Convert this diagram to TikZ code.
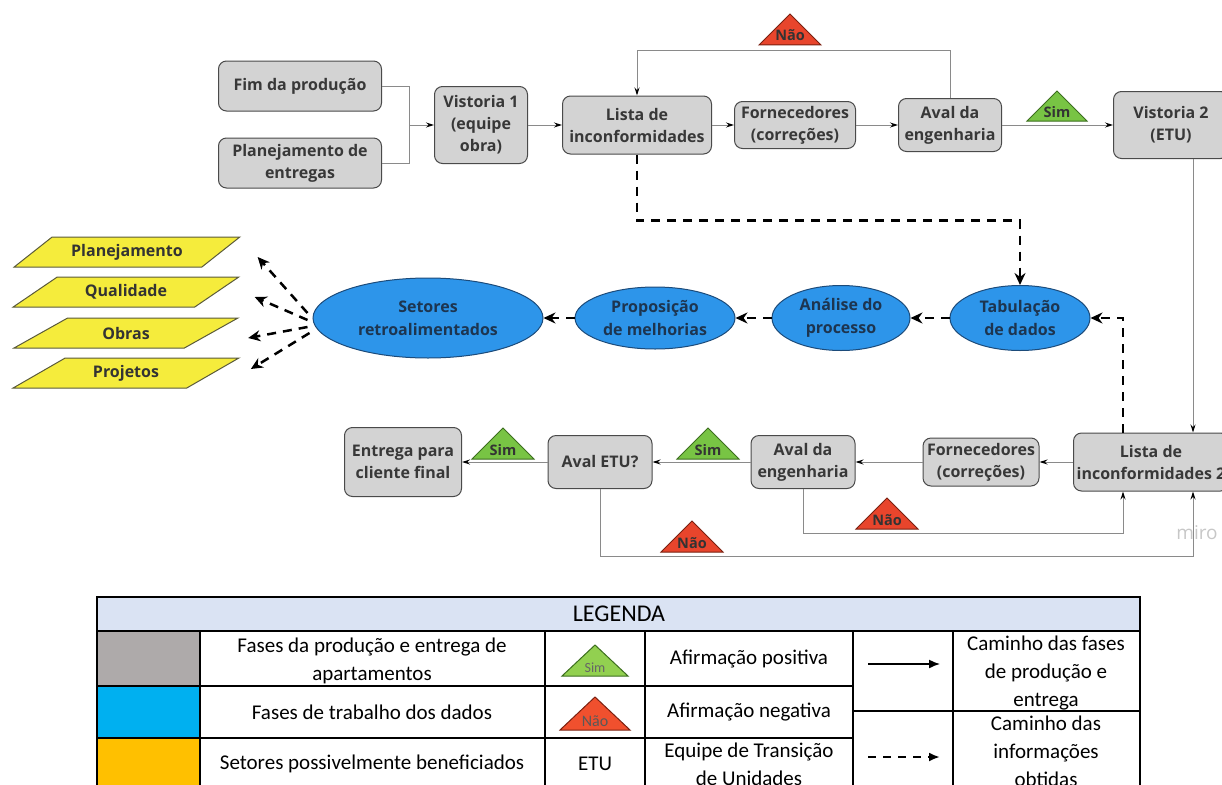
\documentclass[tikz,border=0pt]{standalone}
\usepackage{fontspec}
\setmainfont{Open Sans}
\newfontfamily\legfont{Carlito}
\usetikzlibrary{shapes.geometric,arrows.meta,positioning,calc}

\definecolor{boxfill}{HTML}{D3D3D3}
\definecolor{boxline}{HTML}{4A4A4A}
\definecolor{boxtext}{HTML}{383838}
\definecolor{ellfill}{HTML}{2D95EA}
\definecolor{ellline}{HTML}{1C4B7A}
\definecolor{elltext}{HTML}{1D3550}
\definecolor{secfill}{HTML}{F5EC3C}
\definecolor{secline}{HTML}{5A5A3A}
\definecolor{connline}{HTML}{8A8A8A}
\definecolor{simfill}{HTML}{78C444}
\definecolor{simline}{HTML}{3C6E1E}
\definecolor{naofill}{HTML}{E8452C}
\definecolor{naoline}{HTML}{7A2010}
\definecolor{legsim}{HTML}{92D050}
\definecolor{legnao}{HTML}{F0502E}
\definecolor{leghead}{HTML}{DAE3F3}
\definecolor{swgray}{HTML}{AEAAAA}
\definecolor{swblue}{HTML}{00B0F0}
\definecolor{swyellow}{HTML}{FFC000}

% triangle flag: name, base centre, half width, height, style, text
\newcommand{\flag}[6]{%
  \path[#5] (#2) ++(-#3,0) -- ++(2*#3,0) -- ++(-#3,-#4) -- cycle;
  \path (#2) ++(0,-4) node[flagtext] (#1) {#6};}

\begin{document}
\begin{tikzpicture}[x=1pt,y=-1pt,
    phase/.style={draw=boxline,fill=boxfill,rounded corners=8pt,line width=1pt,
      align=center,text=boxtext,inner sep=1pt,
      font=\bfseries\fontsize{16}{22}\selectfont},
    data/.style={ellipse,draw=ellline,fill=ellfill,line width=1pt,align=center,
      text=elltext,inner sep=0pt,font=\bfseries\fontsize{16}{23}\selectfont},
    sector/.style={trapezium,trapezium left angle=29.5,trapezium right angle=150.5,
      trapezium stretches=true,draw=secline,fill=secfill,line width=1pt,
      minimum width=226,minimum height=30,inner sep=0pt,text=black!80,
      font=\bfseries\fontsize{16}{18}\selectfont},
    link/.style={draw=connline,line width=1pt},
    conn/.style={link,-{Stealth[length=8pt,width=5pt,color=black]}},
    info/.style={line width=2.5pt,dash pattern=on 9pt off 7pt,
      -{Stealth[length=12pt,width=11pt]}},
    flagtext/.style={anchor=base,inner sep=0pt,text=black!80,
      font=\bfseries\fontsize{14.5}{14.5}\selectfont},
    simflag/.style={fill=simfill,draw=simline,line width=1pt},
    naoflag/.style={fill=naofill,draw=naoline,line width=1pt},
    legsimflag/.style={fill=legsim,draw=simline,line width=1pt},
    legnaoflag/.style={fill=legnao,draw=naoline,line width=1pt},
    legtext/.style={align=center,inner sep=0pt,font=\legfont\fontsize{21}{28}\selectfont},
    legrule/.style={line width=1.5pt}]
  \useasboundingbox (0,0) rectangle (1222,784);

  % production phases, first inspection
  \node[phase,minimum width=163,minimum height=50] (fim) at (300,86) {Fim da produção};
  \node[phase,minimum width=163,minimum height=50] (plan) at (300,163) {Planejamento de\\entregas};
  \node[phase,minimum width=93,minimum height=77] (vis1) at (481,125) {Vistoria 1\\(equipe\\obra)};
  \node[phase,minimum width=149,minimum height=58] (lista1) at (637,125) {Lista de\\inconformidades};
  \node[phase,minimum width=121,minimum height=47] (forn1) at (795,125) {Fornecedores\\(correções)};
  \node[phase,minimum width=103,minimum height=53] (aval1) at (950,125) {Aval da\\engenharia};
  \node[phase,minimum width=115,minimum height=67] (vis2) at (1171,125) {Vistoria 2\\(ETU)};

  \coordinate (join) at (409,125);
  \draw[link] (fim.east) -| (join);
  \draw[link] (plan.east) -| (join);
  \draw[conn] (join) -- (vis1.west);
  \draw[conn] (vis1) -- (lista1);
  \draw[conn] (lista1) -- (forn1);
  \draw[conn] (forn1) -- (aval1);
  \draw[conn] (aval1) -- (vis2);
  \draw[conn] (aval1.north) -- ++(0,-47) -| (lista1.north);
  \flag{nao1}{790,45}{31}{31}{naoflag}{Não}
  \flag{sim1}{1057,121}{30}{30}{simflag}{Sim}

  % data work
  \node[data,minimum width=140,minimum height=65] (tab) at (1020,318) {Tabulação\\de dados};
  \node[data,minimum width=138,minimum height=65] (anal) at (841,318) {Análise do\\processo};
  \node[data,minimum width=160,minimum height=62] (prop) at (655,318) {Proposição\\de melhorias};
  \node[data,minimum width=230,minimum height=80] (setor) at (428,318) {Setores\\retroalimentados};

  \node[sector] (plj) at (127,252) {Planejamento};
  \node[sector] (qual) at (126,292) {Qualidade};
  \node[sector] (obras) at (126,333) {Obras};
  \node[sector] (proj) at (126,373) {Projetos};

  \draw[info] (lista1.south) -- ++(0,66) -| (tab.north);
  \draw[info] (tab) -- (anal);
  \draw[info] (anal) -- (prop);
  \draw[info] (prop) -- (setor);
  \draw[info] ([shift={(-5,-5)}]setor.west) -- ($(plj.east)+(36,5)$);
  \draw[info] ([shift={(-5,2)}]setor.west) -- ($(qual.east)+(37,5)$);
  \draw[info] ([shift={(-5,9)}]setor.west) -- ($(obras.east)+(36,5)$);
  \draw[info] ([shift={(-3,15)}]setor.west) -- ($(proj.east)+(37,-4)$);

  % second inspection and delivery
  \node[phase,minimum width=155,minimum height=58] (lista2) at (1151,462) {Lista de\\inconformidades 2};
  \node[phase,minimum width=116,minimum height=48] (forn2) at (981,462) {Fornecedores\\(correções)};
  \node[phase,minimum width=104,minimum height=53] (aval2) at (803,462) {Aval da\\engenharia};
  \node[phase,minimum width=104,minimum height=53] (etu) at (600,462) {Aval ETU?};
  \node[phase,minimum width=117,minimum height=69] (entrega) at (403,462) {Entrega para\\cliente final};

  \coordinate (v2x) at (1193,0);
  \coordinate (dx) at (1123,0);
  \draw[conn] (vis2.south -| v2x) -- (lista2.north -| v2x);
  \draw[info] (lista2.north -| dx) |- (tab.east);
  \draw[conn] (lista2) -- (forn2);
  \draw[conn] (forn2) -- (aval2);
  \draw[conn] (aval2) -- (etu);
  \draw[conn] (etu) -- (entrega);
  \draw[conn] (aval2.south) -- ++(0,44) -| (lista2.south -| dx);
  \draw[conn] (etu.south) -- ++(0,67) -| (lista2.south -| v2x);
  \flag{sim2}{708,459}{31}{31}{simflag}{Sim}
  \flag{sim3}{503,459}{31}{31}{simflag}{Sim}
  \flag{nao2}{887,529}{31}{31}{naoflag}{Não}
  \flag{nao3}{692,552}{31}{31}{naoflag}{Não}
  \node[text=black!22,font=\fontsize{19}{19}\selectfont] (miro) at (1197,533) {miro};

  % legend
  \fill[leghead] (97,597) rectangle (1140,631);
  \fill[swgray] (97,631) rectangle (200,686);
  \fill[swblue] (97,686) rectangle (200,738);
  \fill[swyellow] (97,738) rectangle (200,800);
  \draw[legrule] (97,631) -- (1140,631);
  \foreach \x in {200,545,645,853,953}
    \draw[legrule] (\x,631) -- (\x,800);
  \draw[legrule] (97,686) -- (853,686);
  \draw[legrule] (97,738) -- (853,738);
  \draw[legrule] (853,711) -- (1140,711);
  \draw[line width=2pt] (97,597) rectangle (1140,800);

  \node[legtext,font=\legfont\fontsize{24}{28}\selectfont] (leg) at (619,614) {LEGENDA};
  \node[legtext] (lprod) at (372,661) {Fases da produção e entrega de\\apartamentos};
  \node[legtext] (ldados) at (372,712) {Fases de trabalho dos dados};
  \node[legtext] (lset) at (372,764) {Setores possivelmente beneficiados};
  \flag{lsim}{595,676}{33}{31}{legsimflag}{\legfont\mdseries\fontsize{14}{14}\selectfont\color{black!60}Sim}
  \flag{lnao}{595,730}{35}{33}{legnaoflag}{\legfont\mdseries\fontsize{16}{16}\selectfont\color{black!65}Não}
  \node[legtext] (letu) at (595,764) {ETU};
  \node[legtext] (lpos) at (749,659) {Afirmação positiva};
  \node[legtext] (lneg) at (749,712) {Afirmação negativa};
  \node[legtext] (lequipe) at (749,764) {Equipe de Transição\\de Unidades};
  \node[legtext] (lcam1) at (1046,673) {Caminho das fases\\de produção e\\entrega};
  \node[legtext] (lcam2) at (1046,751) {Caminho das\\informações\\obtidas};
  \coordinate (s1) at (868,664);
  \coordinate (s2) at (940,664);
  \coordinate (d1) at (868,757);
  \coordinate (d2) at (940,757);
  \draw[line width=1.5pt,-{Latex[length=11pt,width=9pt]}] (s1) -- (s2);
  \draw[line width=2.5pt,dash pattern=on 8pt off 7pt,-{Latex[length=11pt,width=9pt]}] (d1) -- (d2);
\end{tikzpicture}
\end{document}
